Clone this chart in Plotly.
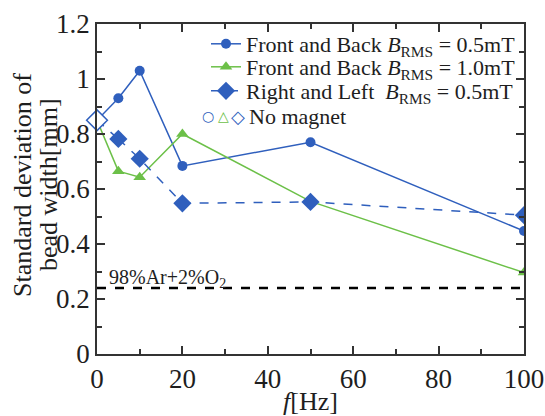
import plotly.graph_objects as go

freq = [5, 10, 20, 50, 100]
fb_05 = [0.93, 1.03, 0.684, 0.770, 0.447]
fb_10 = [0.665, 0.643, 0.800, 0.555, 0.296]
rl_05 = [0.782, 0.710, 0.548, 0.553, 0.505]
no_magnet_f = 0
no_magnet = 0.85
ref_f = [0, 100]
ref_val = [0.24, 0.24]
series_names = [
    "Front and Back <i>B</i><sub>RMS</sub> = 0.5mT",
    "Front and Back <i>B</i><sub>RMS</sub> = 1.0mT",
    "Right and Left  <i>B</i><sub>RMS</sub> = 0.5mT",
]

BLUE = "#2f5fbd"
GREEN = "#6cc048"
TXT = "#1e1e1e"
FONT = "'Liberation Serif', 'Times New Roman', Times, serif"

# plot area in pixels (for layout placement of legend rows)
W, H = 545, 416
L, R, T, B = 97, 21, 24, 62
PW, PH = W - L - R, H - T - B


def px_x(p):
    return (p - L) / PW


def px_y(p):
    return (H - B - p) / PH


fig = go.Figure()

styles = [
    (fb_05, BLUE, "circle", 10, "solid"),
    (fb_10, GREEN, "triangle-up", 11, "solid"),
    (rl_05, BLUE, "diamond", 14, "dash"),
]
legend_ids = ["legend", "legend2", "legend3"]
row_y = [44, 67, 91]

for i, ((vals, col, sym, sz, dash), name) in enumerate(zip(styles, series_names)):
    fig.add_trace(go.Scatter(
        x=[no_magnet_f, freq[0]], y=[no_magnet, vals[0]], mode="lines",
        line=dict(color=col, width=1.5, dash=dash), showlegend=False,
        hoverinfo="skip"))
    fig.add_trace(go.Scatter(
        x=freq, y=vals, mode="lines+markers", name=name, legend=legend_ids[i],
        line=dict(color=col, width=1.5, dash=dash),
        marker=dict(symbol=sym, size=sz, color=col)))

fig.add_trace(go.Scatter(x=ref_f, y=ref_val, mode="lines",
                         line=dict(color="black", width=2.5, dash="dash"),
                         showlegend=False))

for sym, col, sz in [("circle", BLUE, 10), ("triangle-up", GREEN, 11), ("diamond", BLUE, 16)]:
    fig.add_trace(go.Scatter(x=[no_magnet_f], y=[no_magnet], mode="markers",
                             marker=dict(symbol=sym, size=sz, color="white",
                                         line=dict(color=col, width=1.5)),
                             showlegend=False, cliponaxis=False))

fig.add_annotation(x=ref_f[0] + 2.3, y=ref_val[0] + 0.035, xref="x", yref="y",
                   text="98%Ar+2%O<sub>2</sub>", showarrow=False, xanchor="left",
                   font=dict(family=FONT, size=20, color=TXT))

# "No magnet" legend row
for ch, col, xp, fs in [("○", BLUE, 208, 14), ("△", GREEN, 223, 14), ("◇", BLUE, 238, 18)]:
    fig.add_annotation(x=px_x(xp), y=px_y(116), xref="paper", yref="paper",
                       xanchor="center", yanchor="middle", showarrow=False,
                       text=ch, font=dict(family="DejaVu Sans", size=fs, color=col))
fig.add_annotation(x=px_x(247), y=px_y(116), xref="paper", yref="paper", xanchor="left",
                   yanchor="middle", showarrow=False, text="No magnet",
                   font=dict(family=FONT, size=22, color=TXT))

# y-axis title as two tight lines
for txt, xp in [("Standard deviation of", 22), ("bead width[mm]", 48)]:
    fig.add_annotation(x=px_x(xp), y=px_y(185), xref="paper", yref="paper",
                       xanchor="center", yanchor="middle", showarrow=False,
                       textangle=-90, text=txt,
                       font=dict(family=FONT, size=26, color=TXT))

axis_common = dict(showline=True, linecolor="#333", linewidth=1.5, mirror="allticks",
                   ticks="inside", ticklen=8, tickwidth=1.5, tickcolor="#333",
                   showgrid=False, zeroline=False, automargin=False,
                   tickfont=dict(family=FONT, size=27, color=TXT))

fig.update_xaxes(range=[0, 100], dtick=20, tick0=0,
                 minor=dict(ticks="inside", dtick=10, ticklen=5, tickwidth=1.5, tickcolor="#333"),
                 title=dict(text="<i>f</i>[Hz]", font=dict(family=FONT, size=26, color=TXT),
                            standoff=4),
                 **axis_common)
fig.update_yaxes(range=[0, 1.2],
                 tickvals=[0, 0.2, 0.4, 0.6, 0.8, 1.0, 1.2],
                 ticktext=["0", "0.2", "0.4", "0.6", "0.8", "1", "1.2"],
                 minor=dict(ticks="inside", dtick=0.1, ticklen=5, tickwidth=1.5, tickcolor="#333"),
                 **axis_common)

leg_common = dict(xanchor="left", yanchor="middle", bgcolor="rgba(0,0,0,0)",
                  font=dict(family=FONT, size=22, color=TXT), itemwidth=30,
                  borderwidth=0)
fig.update_layout(
    width=W, height=H,
    margin=dict(l=L, r=R, t=T, b=B),
    plot_bgcolor="white", paper_bgcolor="white",
    font=dict(family=FONT, color=TXT),
    showlegend=True,
    legend=dict(x=px_x(206), y=px_y(row_y[0]), **leg_common),
    legend2=dict(x=px_x(206), y=px_y(row_y[1]), **leg_common),
    legend3=dict(x=px_x(206), y=px_y(row_y[2]), **leg_common),
)

fig.write_html("out.html", config={"displayModeBar": False},
               post_script="document.body.style.margin='0';document.body.style.overflow='hidden';")
